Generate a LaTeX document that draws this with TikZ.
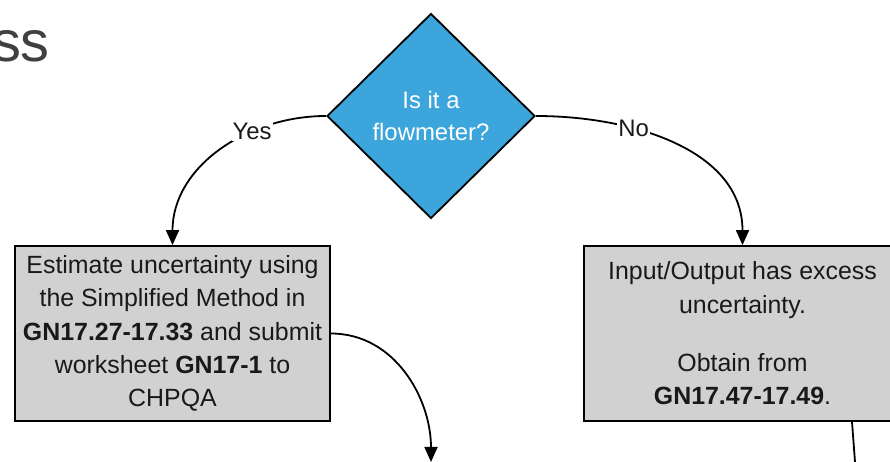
\documentclass[tikz,border=0pt]{standalone}
\usepackage{fontspec}
\setmainfont{Liberation Sans}
\usetikzlibrary{shapes.geometric,arrows.meta}
\definecolor{flowblue}{HTML}{3BA5DC}
\definecolor{boxgray}{HTML}{D1D1D1}
\definecolor{headgray}{HTML}{404040}
\begin{document}
\begin{tikzpicture}[x=1bp,y=1bp,
  decision/.style={diamond,draw,line width=1.8bp,fill=flowblue,text=white,minimum width=208bp,minimum height=205bp,inner sep=0pt,align=center,font=\fontsize{24}{32}\selectfont},
  actionbox/.style={rectangle,draw,line width=1.8bp,fill=boxgray,minimum height=175bp,inner sep=0pt,align=center,text=black!90,font=\fontsize{25}{33.5}\selectfont},
  flowarrow/.style={line width=1.8bp,-{Triangle[length=15bp,width=13bp]}},
  answer/.style={fill=white,inner sep=1bp,text=black!90,font=\fontsize{24}{24}\selectfont}]
\clip (0,0) rectangle (890,462);
% heading, only its tail is inside the page
\node[anchor=base east,inner sep=0pt,text=headgray,font=\fontsize{58}{58}\selectfont] (title) at (50,400) {ss};
% the question and its two outcomes
\node[decision] (question) at (431,346) {Is it a\\flowmeter?};
\node[actionbox,minimum width=315bp] (simplified) at (172.5,128.5) {Estimate uncertainty using\\the Simplified Method in\\\textbf{GN17.27-17.33} and submit\\worksheet \textbf{GN17-1} to\\CHPQA};
\node[actionbox,minimum width=317bp] (excess) at (742.5,128.5) {Input/Output has excess\\uncertainty.\\[25bp]Obtain from\\\textbf{GN17.47-17.49}.};
\coordinate (next) at (431,0);
\coordinate (onward) at (855,0);
% connectors
\draw[flowarrow] (question.west) to[out=180,in=90] node[answer,pos=0.33] {Yes} (simplified.north);
\draw[flowarrow] (question.east) to[out=0,in=90] node[answer,pos=0.34] {No} (excess.north);
\draw[flowarrow] (simplified.east) to[out=0,in=90] (next);
\draw[line width=1.8bp] (excess.south -| 852,0) -- (onward);
\end{tikzpicture}
\end{document}
